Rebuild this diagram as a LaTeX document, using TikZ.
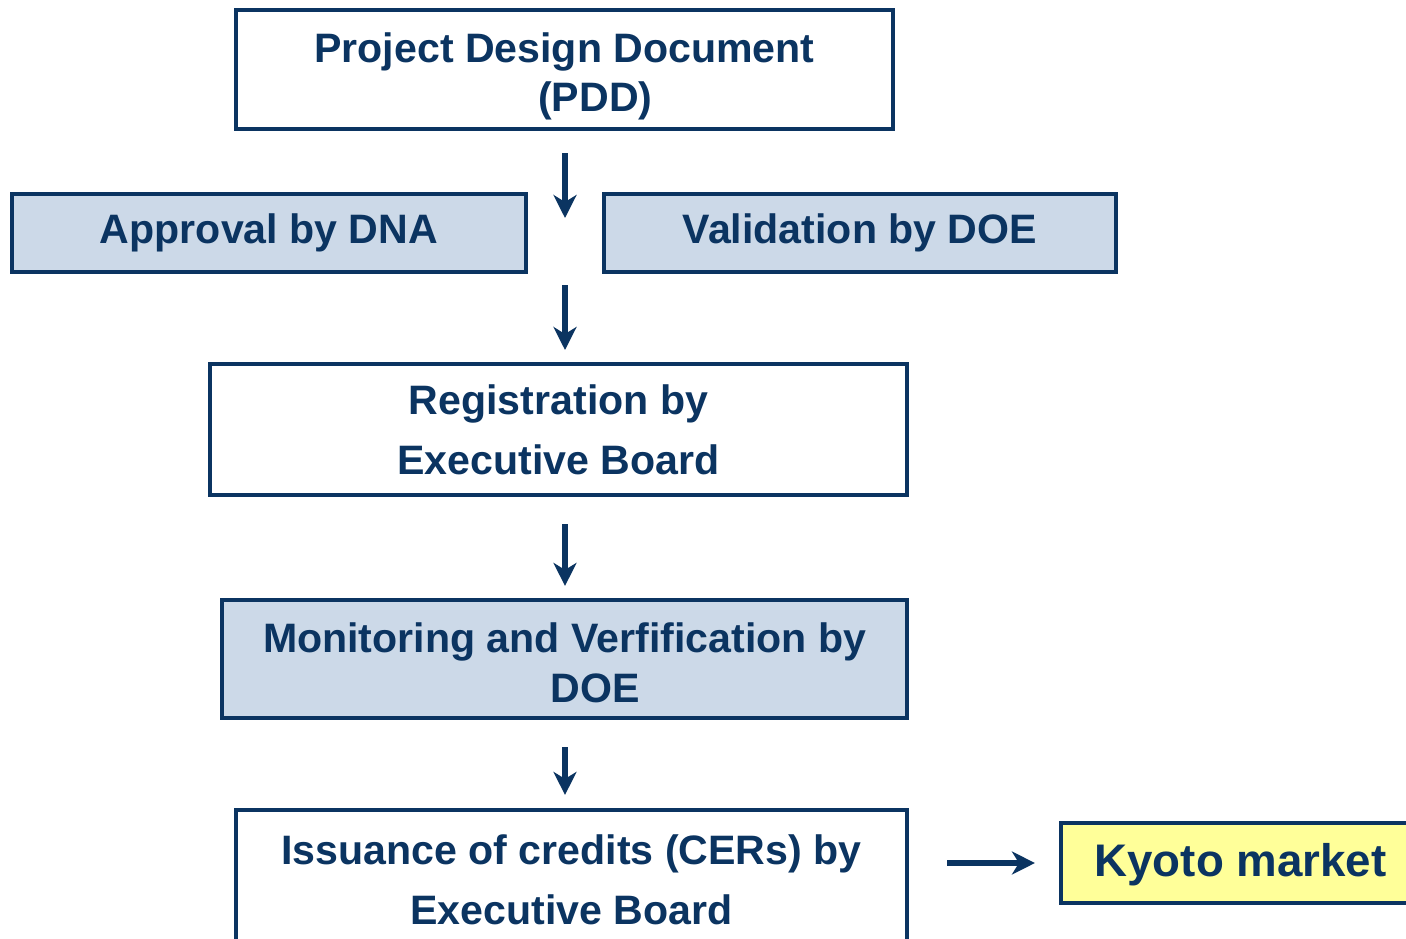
\documentclass[tikz,border=0pt]{standalone}
\usepackage{fontspec}
\setmainfont{Liberation Sans}
\usetikzlibrary{arrows.meta}
\usetikzlibrary{positioning}
\definecolor{navy}{HTML}{0B3461}
\definecolor{paleblue}{HTML}{CCD9E8}
\definecolor{paleyellow}{HTML}{FFFF99}
\tikzstyle{stage} = [
    rectangle,
    draw=navy,
    line width=2.4pt,
    fill=white,
    text=navy,
    font=\fontsize{23.4pt}{28.3pt}\selectfont\bfseries,
    align=center,
    inner sep=0pt
]
\tikzstyle{party} = [stage, fill=paleblue]
\tikzstyle{market} = [stage, fill=paleyellow,
    font=\fontsize{26pt}{30pt}\selectfont\bfseries]
\tikzstyle{tran}  = [
    draw=navy,
    line width=3.1pt,
    -{Stealth[length=0.46cm, width=0.46cm, inset=0.14cm]}
]
\newcommand{\nudge}{\hspace*{1.5em}}
\newcommand{\sinkline}[2]{\raisebox{-#1}[\height][\depth]{#2}}

\begin{document}
\begin{tikzpicture}[x=0.02cm, y=-0.02cm]
\clip (0,0) rectangle (1406,938);
\fill[white] (0,0) rectangle (1406,938);

\node[stage, minimum width=13.14cm, minimum height=2.38cm] (pdd) at (564.5,69.5)
{\sinkline{0.14cm}{Project Design Document}\\ \nudge\sinkline{0.14cm}{(PDD)}};

\node[party, minimum width=10.28cm, minimum height=1.56cm] (dna) at (269,233)
{Approval by DNA};

\node[party, minimum width=10.24cm, minimum height=1.56cm] (doe) at (860,233)
{Validation by DOE};

\node[stage, minimum width=13.94cm, minimum height=2.62cm,
      font=\fontsize{23.4pt}{34pt}\selectfont\bfseries] (reg) at (558.5,429.5)
{Registration by\\ Executive Board};

\node[party, minimum width=13.70cm, minimum height=2.36cm] (mon) at (564.5,659)
{\sinkline{0.07cm}{Monitoring and Verfification by}\\ \nudge\sinkline{0.07cm}{DOE}};

\node[stage, minimum width=13.42cm, minimum height=2.8cm,
      font=\fontsize{23.4pt}{34pt}\selectfont\bfseries] (iss) at (571.5,880)
{Issuance of credits (CERs) by\\ Executive Board};

\node[market, minimum width=7.18cm, minimum height=1.6cm, text depth=0pt] (kyoto) at (1240.5,863)
{\raisebox{0.15em}{Kyoto market}};

\coordinate (gapTop) at (565,153);
\coordinate (gapMid) at (565,218);
\coordinate (gapLow) at (565,285);
\coordinate (regTop) at (565,350);

\draw[tran] (gapTop) -- (gapMid);
\draw[tran] (gapLow) -- (regTop);
\draw[tran, shorten <=0.54cm, shorten >=0.24cm] (reg.south -| gapTop) -- (mon.north -| gapTop);
\draw[tran, shorten <=0.54cm, shorten >=0.26cm] (mon.south -| gapTop) -- (iss.north -| gapTop);
\draw[tran, shorten <=0.76cm, shorten >=0.48cm] (kyoto.west -| iss.east) -- (kyoto.west);
\end{tikzpicture}
\end{document}
